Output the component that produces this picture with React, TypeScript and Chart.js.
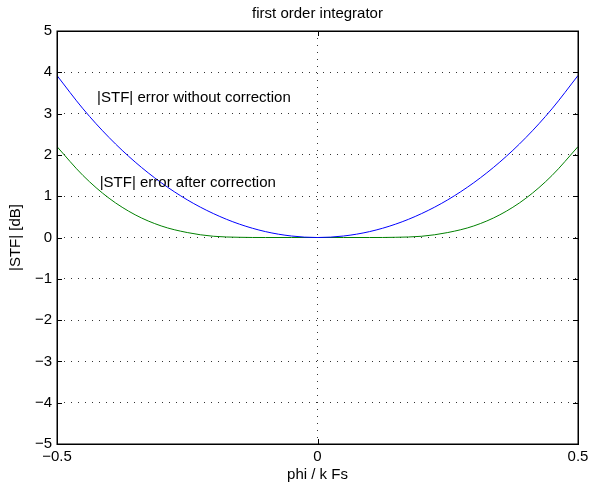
import React, { useEffect, useRef } from 'react';
import { Chart, registerables } from 'chart.js';

Chart.register(...registerables);

const phi = [-0.5, -0.45, -0.4, -0.35, -0.3, -0.25, -0.2, -0.15, -0.1, -0.05, 0, 0.05, 0.1, 0.15, 0.2, 0.25, 0.3, 0.35, 0.4, 0.45, 0.5];
const errWithout = [3.922, 3.115, 2.42, 1.827, 1.327, 0.912, 0.58, 0.324, 0.143, 0.036, 0, 0.036, 0.143, 0.324, 0.58, 0.912, 1.327, 1.827, 2.42, 3.115, 3.922];
const errAfter = [2.2, 1.5, 0.95, 0.55, 0.28, 0.12, 0.03, 0.005, 0, 0, 0, 0, 0, 0.005, 0.03, 0.12, 0.28, 0.55, 0.95, 1.5, 2.2];
const xTicks = [-0.5, 0, 0.5];
const yTicks = [-5, -4, -3, -2, -1, 0, 1, 2, 3, 4, 5];
const titleText = 'first order integrator';
const xTitle = 'phi / k Fs';
const yTitle = '|STF| [dB]';
const labelWithout = '|STF| error without correction';
const labelAfter = '|STF| error after correction';
const labelWithoutPos = [-0.423, 3.39];
const labelAfterPos = [-0.418, 1.33];

const FONT = '"Liberation Sans", Arial, Helvetica, sans-serif';
const FS = 15;

const fmt = (v: number) => (v < 0 ? '\u2212' + String(Math.abs(v)) : String(v));

const framePlugin = {
  id: 'frame',
  afterDatasetsDraw(chart: any) {
    const { ctx, chartArea, scales } = chart;
    const { left, right, top, bottom } = chartArea;
    const x = scales.x;
    const y = scales.y;
    ctx.save();
    ctx.strokeStyle = '#000';
    ctx.lineWidth = 1;
    ctx.beginPath();
    for (const v of yTicks) {
      const py = Math.round(y.getPixelForValue(v)) + 0.5;
      ctx.moveTo(left, py);
      ctx.lineTo(left + 5, py);
      ctx.moveTo(right, py);
      ctx.lineTo(right - 5, py);
    }
    for (const v of xTicks) {
      const px = Math.round(x.getPixelForValue(v)) + 0.5;
      ctx.moveTo(px, top);
      ctx.lineTo(px, top + 5);
      ctx.moveTo(px, bottom);
      ctx.lineTo(px, bottom - 5);
    }
    ctx.stroke();
    ctx.lineWidth = 1.5;
    ctx.strokeRect(Math.round(left) + 0.25, Math.round(top) + 0.25, Math.round(right - left), Math.round(bottom - top));

    ctx.fillStyle = '#000';
    ctx.font = `${FS}px ${FONT}`;
    ctx.textAlign = 'left';
    ctx.textBaseline = 'middle';
    ctx.fillText(labelWithout, x.getPixelForValue(labelWithoutPos[0]), y.getPixelForValue(labelWithoutPos[1]));
    ctx.fillText(labelAfter, x.getPixelForValue(labelAfterPos[0]), y.getPixelForValue(labelAfterPos[1]));

    ctx.textAlign = 'center';
    ctx.fillText(titleText, (left + right) / 2, 13.5);
    ctx.restore();
  },
};

export default function App() {
  const ref = useRef<HTMLCanvasElement | null>(null);
  useEffect(() => {
    if (!ref.current) return;
    const chart = new Chart(ref.current, {
      type: 'line',
      data: {
        datasets: [
          {
            label: labelWithout,
            data: phi.map((p, i) => ({ x: p, y: errWithout[i] })),
            borderColor: '#0000ff',
            borderWidth: 1,
            pointRadius: 0,
            cubicInterpolationMode: 'monotone',
            fill: false,
          },
          {
            label: labelAfter,
            data: phi.map((p, i) => ({ x: p, y: errAfter[i] })),
            borderColor: '#008000',
            borderWidth: 1,
            pointRadius: 0,
            cubicInterpolationMode: 'monotone',
            fill: false,
          },
        ],
      },
      options: {
        animation: false,
        responsive: false,
        devicePixelRatio: 1,
        layout: { padding: { left: 0, right: 11, top: 31, bottom: 0 } },
        plugins: {
          legend: { display: false },
          tooltip: { enabled: false },
          title: { display: false },
        },
        scales: {
          x: {
            type: 'linear',
            min: -0.5,
            max: 0.5,
            afterFit: (s: any) => {
              s.height = 45;
              s.paddingLeft = 0;
              s.paddingRight = 0;
            },
            afterBuildTicks: (s: any) => {
              s.ticks = xTicks.map((v) => ({ value: v }));
            },
            ticks: {
              color: '#000',
              font: { family: FONT, size: FS },
              padding: 4,
              maxRotation: 0,
              callback: (v: any) => fmt(Number(v)),
            },
            grid: { color: 'rgba(0,0,0,0.8)', lineWidth: 1, drawTicks: false },
            border: { display: false, dash: [1, 6] },
            title: {
              display: true,
              text: xTitle,
              color: '#000',
              font: { family: FONT, size: FS },
              padding: { top: 0, bottom: 5 },
            },
          },
          y: {
            type: 'linear',
            min: -5,
            max: 5,
            afterFit: (s: any) => {
              s.width = 57;
              s.paddingTop = 0;
              s.paddingBottom = 0;
            },
            afterBuildTicks: (s: any) => {
              s.ticks = yTicks.map((v) => ({ value: v }));
            },
            ticks: {
              color: '#000',
              font: { family: FONT, size: FS },
              padding: 5,
              callback: (v: any) => fmt(Number(v)),
            },
            grid: { color: 'rgba(0,0,0,0.8)', lineWidth: 1, drawTicks: false },
            border: { display: false, dash: [1, 6] },
            title: {
              display: true,
              text: yTitle,
              color: '#000',
              font: { family: FONT, size: FS },
              padding: { top: 7, bottom: 0 },
            },
          },
        },
      },
      plugins: [framePlugin],
    } as any);
    return () => chart.destroy();
  }, []);
  return (
    <div style={{ position: 'absolute', left: 0, top: 0, width: 589, height: 489, background: '#fff' }}>
      <canvas ref={ref} width={589} height={489} style={{ display: 'block' }} />
    </div>
  );
}
